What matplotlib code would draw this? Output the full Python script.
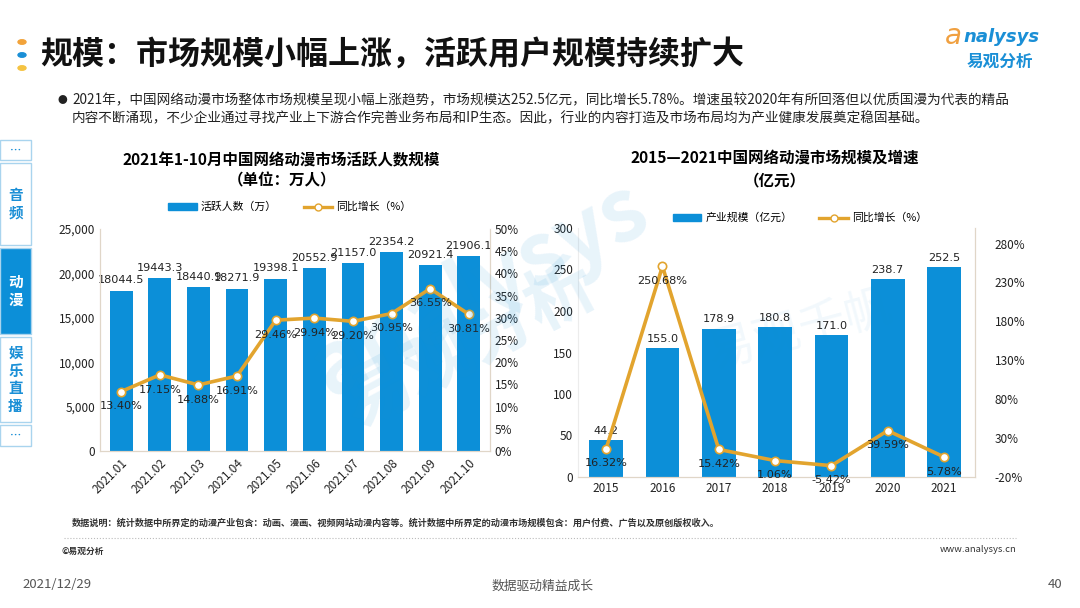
"""
Recreate the Analysys slide: online animation market, active users and market size.
"""
import numpy as np
import matplotlib
matplotlib.use("Agg")
import matplotlib.pyplot as plt
import matplotlib.patches as mpatches
from matplotlib.lines import Line2D
from matplotlib.ticker import FuncFormatter

plt.rcParams["font.family"] = ["Noto Sans CJK SC", "DejaVu Sans"]

# ---- data -------------------------------------------------------------
months = ["2021.01", "2021.02", "2021.03", "2021.04", "2021.05",
          "2021.06", "2021.07", "2021.08", "2021.09", "2021.10"]
active_users = [18044.5, 19443.3, 18440.9, 18271.9, 19398.1,
                20552.9, 21157.0, 22354.2, 20921.4, 21906.1]
users_growth = [13.40, 17.15, 14.88, 16.91, 29.46,
                29.94, 29.20, 30.95, 36.55, 30.81]

years = ["2015", "2016", "2017", "2018", "2019", "2020", "2021"]
market_size = [44.2, 155.0, 178.9, 180.8, 171.0, 238.7, 252.5]
market_growth = [16.32, 250.68, 15.42, 1.06, -5.42, 39.59, 5.78]

BLUE = "#0c8fd8"
GOLD = "#e2a42e"
SPINE = "#e0d6c8"
TXT = "#222222"

W, H = 1080, 608
fig = plt.figure(figsize=(W / 100, H / 100), dpi=100)


def fx(px):
    return px / W


def fy(py):
    return 1 - py / H


# ---- header -------------------------------------------------------------
for yy, c in [(42, "#f2a33a"), (55, "#1a8fd6"), (68, "#f5c342")]:
    fig.patches.append(mpatches.Circle((fx(22), fy(yy)), 0.0037, color=c,
                                       transform=fig.transFigure))
fig.text(fx(40), fy(55), "规模：市场规模小幅上涨，活跃用户规模持续扩大",
         fontsize=23, weight="bold", va="center", color="#111111")

# logo
fig.text(fx(945), fy(36), "a", fontsize=20, color="#f0a040", va="center",
         style="italic", family="DejaVu Sans")
fig.text(fx(963), fy(37), "nalysys", fontsize=13, color="#1a8fd6", va="center",
         style="italic", weight="bold", family="DejaVu Sans")
fig.text(fx(1000), fy(62), "易观分析", fontsize=12, color="#1a8fd6",
         va="center", ha="center", weight="bold")

# bullet text
fig.text(fx(58), fy(100), "●", fontsize=7, va="center", color=TXT)
fig.text(fx(72), fy(100),
         "2021年，中国网络动漫市场整体市场规模呈现小幅上涨趋势，市场规模达252.5亿元，同比增长5.78%。"
         "增速虽较2020年有所回落但以优质国漫为代表的精品",
         fontsize=9.8, va="center", color=TXT)
fig.text(fx(72), fy(118),
         "内容不断涌现，不少企业通过寻找产业上下游合作完善业务布局和IP生态。"
         "因此，行业的内容打造及市场布局均为产业健康发展奠定稳固基础。",
         fontsize=9.8, va="center", color=TXT)

# ---- side navigation ----------------------------------------------------
side = [(140, 160, "…", False), (163, 245, "音\n频", False),
        (248, 334, "动\n漫", True), (337, 422, "娱\n乐\n直\n播", False),
        (425, 446, "…", False)]
for top, bot, label, active in side:
    rect = mpatches.Rectangle((fx(0), fy(bot)), fx(31), (bot - top) / H,
                              transform=fig.transFigure,
                              facecolor=BLUE if active else "white",
                              edgecolor="#a9d4ee", linewidth=1.0)
    fig.patches.append(rect)
    fig.text(fx(15.5), fy((top + bot) / 2), label, ha="center", va="center",
             fontsize=10.5 if label != "…" else 8, weight="bold",
             color="white" if active else "#1a8fd6", linespacing=1.15)

# ---- faint watermarks ---------------------------------------------------
wm = dict(color="#1a8fd6", alpha=0.10, weight="bold", ha="center", va="center")
fig.text(fx(480), fy(290), "analysys", fontsize=62, rotation=28, **wm)
fig.text(fx(470), fy(345), "易观分析", fontsize=50, rotation=28, **wm)
fig.text(fx(800), fy(330), "易观千帆", fontsize=34, rotation=15,
         color="#1a8fd6", alpha=0.06, ha="center", va="center")


def style_axes(ax, ax2):
    for a in (ax, ax2):
        a.spines["top"].set_visible(False)
        for s in ("left", "right", "bottom"):
            a.spines[s].set_color(SPINE)
            a.spines[s].set_linewidth(0.8)
        a.tick_params(length=0, colors=TXT, labelsize=8.5)
    ax.set_facecolor("none")
    ax2.set_facecolor("none")


# ---- left chart ---------------------------------------------------------
ax1 = fig.add_axes([fx(100), fy(451), fx(390), (451 - 229) / H])
ax1b = ax1.twinx()
x1 = np.arange(len(months))
ax1.bar(x1, active_users, width=0.59, color=BLUE, zorder=2)
ax1.set_ylim(0, 25000)
ax1.set_yticks(np.arange(0, 25001, 5000))
ax1.yaxis.set_major_formatter(FuncFormatter(lambda v, p: f"{v:,.0f}"))
ax1.set_xlim(-0.55, len(months) - 0.45)
ax1.set_xticks(x1)
ax1.set_xticklabels(months, rotation=45, ha="right", rotation_mode="anchor")
ax1b.plot(x1, users_growth, color=GOLD, linewidth=2.6, marker="o",
          markersize=6, markerfacecolor="white", markeredgecolor=GOLD,
          markeredgewidth=1.2, zorder=3)
ax1b.set_ylim(0, 50)
ax1b.set_yticks(np.arange(0, 51, 5))
ax1b.yaxis.set_major_formatter(FuncFormatter(lambda v, p: f"{v:.0f}%"))
style_axes(ax1, ax1b)
ax1.tick_params(axis="x", pad=4)
for xi, v in zip(x1, active_users):
    ax1.annotate(f"{v:.1f}", (xi, v), xytext=(0, 4), textcoords="offset points",
                 ha="center", va="bottom", fontsize=8.1, color=TXT,
                 family="DejaVu Sans")
for xi, v in zip(x1, users_growth):
    ax1b.annotate(f"{v:.2f}%", (xi, v), xytext=(0, -7),
                  textcoords="offset points", ha="center", va="top",
                  fontsize=8.1, color=TXT, family="DejaVu Sans")

fig.text(fx(281), fy(160), "2021年1-10月中国网络动漫市场活跃人数规模",
         ha="center", va="center", fontsize=11.2, weight="bold")
fig.text(fx(282), fy(180), "（单位：万人）", ha="center", va="center",
         fontsize=11.2, weight="bold")

leg_handles = [mpatches.Patch(color=BLUE),
               Line2D([], [], color=GOLD, linewidth=2.4, marker="o",
                      markersize=5, markerfacecolor="white")]
fig.legend(leg_handles, ["活跃人数（万）", "同比增长（%）"],
           loc="center", bbox_to_anchor=(fx(290), fy(207)), ncol=2,
           frameon=False, fontsize=7.8, handlelength=2.6, handleheight=0.6,
           columnspacing=2.5, handletextpad=0.4)

# ---- right chart --------------------------------------------------------
ax2 = fig.add_axes([fx(578), fy(477), fx(397), (477 - 228) / H])
ax2b = ax2.twinx()
x2 = np.arange(len(years))
ax2.bar(x2, market_size, width=0.6, color=BLUE, zorder=2)
ax2.set_ylim(0, 300)
ax2.set_yticks(np.arange(0, 301, 50))
ax2.set_xlim(-0.5, len(years) - 0.45)
ax2.set_xticks(x2)
ax2.set_xticklabels(years)
ax2b.plot(x2, market_growth, color=GOLD, linewidth=2.6, marker="o",
          markersize=6, markerfacecolor="white", markeredgecolor=GOLD,
          markeredgewidth=1.2, zorder=3)
ax2b.set_ylim(-20, 300)
ax2b.set_yticks(np.arange(-20, 281, 50))
ax2b.yaxis.set_major_formatter(FuncFormatter(lambda v, p: f"{v:.0f}%"))
style_axes(ax2, ax2b)
ax2.spines["left"].set_color("#ececec")
ax2b.spines["left"].set_visible(False)
ax2b.tick_params(axis="y", pad=14)
for xi, v in zip(x2, market_size):
    ax2.annotate(f"{v:.1f}", (xi, v), xytext=(0, 3), textcoords="offset points",
                 ha="center", va="bottom", fontsize=8.1, color=TXT,
                 family="DejaVu Sans")
for xi, v in zip(x2, market_growth):
    ax2b.annotate(f"{v:.2f}%", (xi, v), xytext=(0, -7),
                  textcoords="offset points", ha="center", va="top",
                  fontsize=8.1, color=TXT, family="DejaVu Sans")

fig.text(fx(775), fy(158), "2015—2021中国网络动漫市场规模及增速",
         ha="center", va="center", fontsize=11.2, weight="bold")
fig.text(fx(775), fy(180), "（亿元）", ha="center", va="center",
         fontsize=11.2, weight="bold")
fig.legend(leg_handles, ["产业规模（亿元）", "同比增长（%）"],
           loc="center", bbox_to_anchor=(fx(800), fy(218)), ncol=2,
           frameon=False, fontsize=7.8, handlelength=2.6, handleheight=0.6,
           columnspacing=2.5, handletextpad=0.4)

# ---- footer -------------------------------------------------------------
fig.text(fx(72), fy(523),
         "数据说明：统计数据中所界定的动漫产业包含：动画、漫画、视频网站动漫内容等。"
         "统计数据中所界定的动漫市场规模包含：用户付费、广告以及原创版权收入。",
         fontsize=6.6, va="center", weight="bold", color="#333333")
fig.add_artist(Line2D([fx(64), fx(1016)], [fy(538), fy(538)],
                      color="#bbbbbb", linewidth=0.8, linestyle=":"))
fig.text(fx(62), fy(551), "©易观分析", fontsize=6.3, va="center",
         weight="bold", color="#333333")
fig.text(fx(1016), fy(549), "www.analysys.cn", fontsize=6.8, va="center",
         ha="right", color="#333333")
fig.text(fx(22), fy(585), "2021/12/29", fontsize=9.5, va="center",
         color="#555555")
fig.text(fx(543), fy(586), "数据驱动精益成长", fontsize=9.2, va="center",
         ha="center", color="#555555")
fig.text(fx(1062), fy(585), "40", fontsize=9.5, va="center", ha="right",
         color="#555555")

fig.savefig("out.png", dpi=100)
plt.close(fig)
